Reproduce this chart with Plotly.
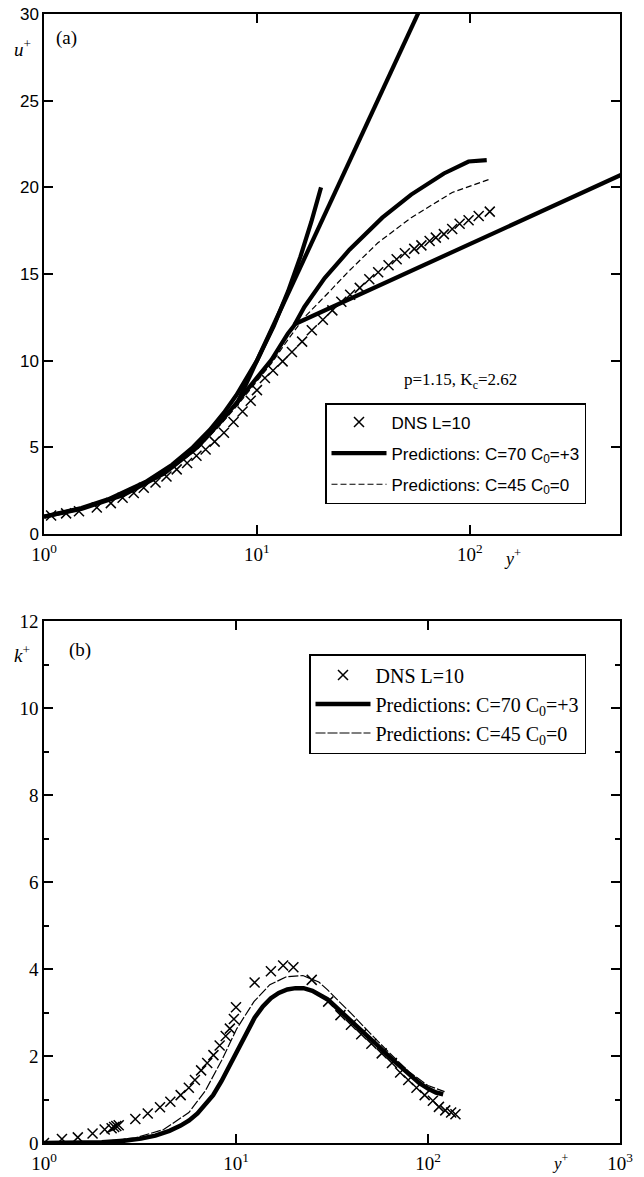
import plotly.graph_objects as go

# ---------------- Panel (a): mean velocity u+ ----------------
yp_dns_u = [1.08, 1.27, 1.46, 1.77, 2.06, 2.34, 2.64, 2.94, 3.34, 3.76, 4.2, 4.7, 5.2, 5.74,
            6.33, 7.0, 7.76, 8.56, 9.35, 10.0, 10.9, 11.9, 13.2, 14.6, 16.3, 18.1, 20.4, 22.6,
            24.9, 27.4, 30.4, 33.7, 37.1, 41.5, 45.3, 49.5, 54.8, 59.2, 64.7, 69.2, 75.5, 82.6,
            89.5, 98.6, 110, 124]
u_dns = [1.07, 1.19, 1.31, 1.53, 1.78, 2.09, 2.36, 2.67, 2.97, 3.32, 3.73, 4.1, 4.51, 4.88,
         5.33, 5.84, 6.46, 7.07, 7.69, 8.3, 9.0, 9.43, 9.96, 10.5, 11.1, 11.75, 12.36, 12.9,
         13.4, 13.8, 14.2, 14.7, 15.1, 15.5, 15.85, 16.2, 16.45, 16.65, 16.9, 17.1, 17.3, 17.6,
         17.9, 18.1, 18.35, 18.6]

yp_c70_u = [1, 1.51, 2.36, 3.68, 5.25, 6.85, 8.19, 10, 11.7, 13.96, 14.9, 16.7, 20.8, 27.2,
            38.8, 53, 75.5, 98.6, 120]
u_c70 = [1.0, 1.46, 2.25, 3.5, 5.0, 6.55, 7.7, 9.0, 10.05, 11.55, 12.0, 13.1, 14.76, 16.4,
         18.25, 19.58, 20.8, 21.49, 21.57]

yp_c45_u = [1, 1.5, 2.36, 3.68, 5.25, 6.85, 8.19, 10, 11.7, 13.96, 16.7, 20.8, 27.2, 37, 53,
            82.6, 126]
u_c45 = [1.0, 1.44, 2.2, 3.45, 4.9, 6.4, 7.5, 8.8, 9.85, 11.2, 12.5, 13.7, 15.2, 16.8,
         18.25, 19.7, 20.5]

# viscous sublayer line u+ = y+
yp_visc = [1, 1.5, 2, 3, 4, 5, 6, 7, 8, 9, 10, 12, 14, 16, 18, 20]
u_visc = [1, 1.5, 2, 3, 4, 5, 6, 7, 8, 9, 10, 12, 14, 16, 18, 20]

# steep log line
yp_steep = [8.0, 60.0]
u_steep = [7.43, 30.6]

# standard log law
yp_log = [15.0, 600.0]
u_log = [12.1, 21.1]

# ---------------- Panel (b): turbulent kinetic energy k+ ----------------
yp_dns_k = [1.0, 1.24, 1.5, 1.79, 2.07, 2.25, 2.32, 2.38, 2.45, 2.99, 3.47, 4.02, 4.55, 5.15,
            5.68, 6.11, 6.58, 7.08, 7.63, 8.22, 8.84, 9.29, 9.75, 10.0, 12.5, 15.2, 17.6, 19.9,
            24.8, 30.2, 35, 39.7, 44.9, 50.7, 57.4, 64.9, 71.6, 78.9, 87.1, 96.1, 106, 114, 123,
            132, 139]
k_dns = [0.0, 0.09, 0.13, 0.22, 0.31, 0.34, 0.37, 0.39, 0.41, 0.55, 0.68, 0.82, 0.95, 1.1,
         1.27, 1.45, 1.67, 1.84, 2.02, 2.24, 2.46, 2.63, 2.85, 3.12, 3.69, 3.95, 4.08, 4.04,
         3.75, 3.25, 2.94, 2.72, 2.5, 2.28, 2.06, 1.84, 1.62, 1.45, 1.27, 1.1, 0.97, 0.83, 0.75,
         0.7, 0.66]

yp_c70_k = [1, 1.5, 2, 2.6, 3.2, 3.8, 4.5, 5.15, 5.7, 6.3, 7.0, 7.6, 8.4, 9.3, 10.2, 11.3,
            12.5, 13.8, 15.2, 16.7, 18.5, 20.4, 22.5, 25, 27.5, 30, 34, 40, 45, 50, 56, 63, 72,
            80, 90, 100, 110, 120]
k_c70 = [0.0, 0.005, 0.02, 0.05, 0.1, 0.17, 0.28, 0.4, 0.52, 0.68, 0.9, 1.1, 1.42, 1.8, 2.17,
         2.55, 2.88, 3.14, 3.33, 3.45, 3.53, 3.56, 3.56, 3.5, 3.4, 3.3, 3.08, 2.8, 2.6, 2.42,
         2.2, 1.98, 1.75, 1.55, 1.38, 1.25, 1.16, 1.12]

yp_c45_k = [1, 2, 3, 4.2, 5.68, 6.9, 8.4, 10.1, 12.4, 15, 18.3, 22.3, 27, 30, 35, 40, 50, 63,
            80, 100, 122]
k_c45 = [0.0, 0.03, 0.12, 0.31, 0.7, 1.19, 1.89, 2.63, 3.25, 3.64, 3.82, 3.85, 3.7, 3.52,
         3.22, 2.97, 2.52, 2.07, 1.63, 1.32, 1.18]

# ---------------- Figure ----------------
SERIF = "Liberation Serif"
SANS = "Liberation Sans"
W, H = 644, 1177
ML, MR, MT, MB = 44, 24, 14, 34
PW = W - ML - MR
PH = H - MT - MB


def px_x(px):
    return (px - ML) / PW


def px_y(py):
    return (H - MB - py) / PH


top_dom = [px_y(534), 1.0]
bot_dom = [0.0, px_y(621)]

name_dns = "DNS L=10"
name_c70 = "Predictions: C=70 C<sub>0</sub>=+3"
name_c45 = "Predictions: C=45 C<sub>0</sub>=0"

fig = go.Figure()

thick = dict(color="black", width=4.2)
cross = dict(symbol="x-thin", size=10, color="black", line=dict(color="black", width=1.5))

# panel (a)
fig.add_trace(go.Scatter(x=yp_visc, y=u_visc, mode="lines", line=thick, showlegend=False,
                         xaxis="x", yaxis="y"))
fig.add_trace(go.Scatter(x=yp_steep, y=u_steep, mode="lines", line=thick, showlegend=False,
                         xaxis="x", yaxis="y"))
fig.add_trace(go.Scatter(x=yp_log, y=u_log, mode="lines", line=thick, showlegend=False,
                         xaxis="x", yaxis="y"))
fig.add_trace(go.Scatter(x=yp_dns_u, y=u_dns, mode="markers", marker=cross, name=name_dns,
                         legend="legend", legendgroup="a1", legendrank=1, xaxis="x", yaxis="y"))
fig.add_trace(go.Scatter(x=yp_c70_u, y=u_c70, mode="lines", line=thick, name=name_c70,
                         legend="legend", legendgroup="a2", legendrank=2, xaxis="x", yaxis="y"))
fig.add_trace(go.Scatter(x=yp_c45_u, y=u_c45, mode="lines",
                         line=dict(color="black", width=1.2, dash="6px,3px"), name=name_c45,
                         legend="legend", legendgroup="a3", legendrank=3, xaxis="x", yaxis="y"))

# panel (b)
fig.add_trace(go.Scatter(x=yp_dns_k, y=k_dns, mode="markers", marker=cross, name=name_dns,
                         legend="legend2", legendrank=1, xaxis="x2", yaxis="y2"))
fig.add_trace(go.Scatter(x=yp_c70_k, y=k_c70, mode="lines", line=dict(color="black", width=4.5),
                         name=name_c70, legend="legend2", legendrank=2, xaxis="x2", yaxis="y2"))
fig.add_trace(go.Scatter(x=yp_c45_k, y=k_c45, mode="lines",
                         line=dict(color="black", width=1.2, dash="10px,2px"), name=name_c45,
                         legend="legend2", legendrank=3, xaxis="x2", yaxis="y2"))

axis_common = dict(showline=True, linecolor="black", linewidth=1.5, mirror="ticks",
                   ticks="inside", tickcolor="black", tickwidth=1.5, showgrid=False,
                   zeroline=False, automargin=False)

fig.update_layout(
    width=W, height=H,
    margin=dict(l=ML, r=MR, t=MT, b=MB),
    paper_bgcolor="white", plot_bgcolor="white",
    xaxis=dict(type="log", range=[0, 2.705], domain=[0, 1], anchor="y",
               tickvals=[1, 10, 100], ticktext=["10<sup>0</sup>", "10<sup>1</sup>", "10<sup>2</sup>"],
               ticklen=9, ticklabelstandoff=2,
               tickfont=dict(family=SERIF, size=19, color="black"), **axis_common),
    yaxis=dict(range=[0, 30], dtick=5, domain=top_dom, anchor="x", ticklen=9,
               tickfont=dict(family=SANS, size=17, color="black"), **axis_common),
    xaxis2=dict(type="log", range=[0, 3], domain=[0, 1], anchor="y2",
                tickvals=[1, 10, 100, 1000],
                ticktext=["10<sup>0</sup>", "10<sup>1</sup>", "10<sup>2</sup>", "10<sup>3</sup>"],
                ticklen=9, ticklabelstandoff=2,
                tickfont=dict(family=SERIF, size=19, color="black"), **axis_common),
    yaxis2=dict(range=[0, 12], dtick=2, domain=bot_dom, anchor="x2", ticklen=9,
                minor=dict(dtick=1, ticks="inside", ticklen=5, tickcolor="black", tickwidth=1.5),
                tickfont=dict(family=SERIF, size=19, color="black"), **axis_common),
    legend=dict(x=px_x(325), y=px_y(403), xanchor="left", yanchor="top",
                bordercolor="black", borderwidth=1.5, bgcolor="white",
                font=dict(family=SANS, size=17, color="black"), itemwidth=55,
                tracegroupgap=6),
    legend2=dict(x=px_x(309), y=px_y(654), xanchor="left", yanchor="top",
                 bordercolor="black", borderwidth=1.5, bgcolor="white",
                 font=dict(family=SERIF, size=20, color="black"), itemwidth=55),
    showlegend=True,
)

annots = [
    ("(a)", 66, 38, SERIF, 19),
    ("<i>u</i><sup>+</sup>", 22, 48, SERIF, 19),
    ("<i>y</i><sup>+</sup>", 512, 557, SERIF, 18),
    ("p=1.15, K<sub>c</sub>=2.62", 460, 381, SERIF, 17),
    ("(b)", 80, 650, SERIF, 19),
    ("<i>k</i><sup>+</sup>", 22, 654, SERIF, 19),
    ("<i>y</i><sup>+</sup>", 560, 1162, SERIF, 17),
]
for text, ax, ay, fam, sz in annots:
    fig.add_annotation(text=text, x=px_x(ax), y=px_y(ay), xref="paper", yref="paper",
                       showarrow=False, xanchor="center", yanchor="middle",
                       font=dict(family=fam, size=sz, color="black"))

fig.write_html("out.html")
